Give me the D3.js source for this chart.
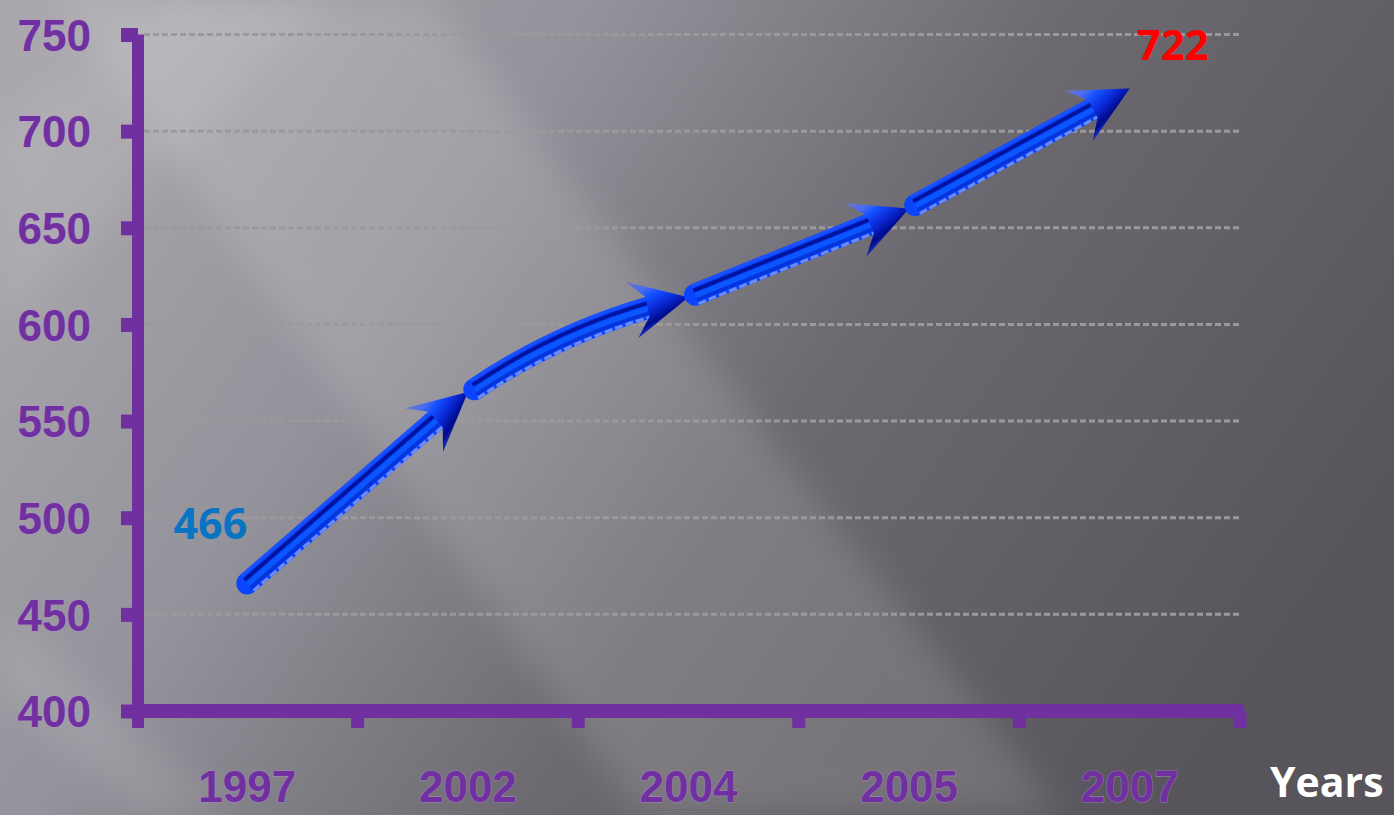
<!DOCTYPE html>
<html>
<head>
<meta charset="utf-8">
<script src="https://cdn.jsdelivr.net/npm/d3@7"></script>
<style>
  html, body { margin: 0; padding: 0; background: #6e6c72; }
  svg { display: block; }
</style>
</head>
<body>
<script>
// chart data
const years = ['1997', '2002', '2004', '2005', '2007'];
const values = [466, 565, 614, 660, 722];
const yTicks = [400, 450, 500, 550, 600, 650, 700, 750];
const firstLabel = '466';
const lastLabel = '722';
const xTitle = 'Years';

const W = 1394, H = 815;
const purple = '#7030a0';
// apex bow of each arrow segment (px, negative = bulges up)
const bows = [0, -11, 0, 0];

const svg = d3.select('body').append('svg')
  .attr('width', W)
  .attr('height', H);

const defs = svg.append('defs');

// background
const bg = defs.append('linearGradient')
  .attr('id', 'bg')
  .attr('x1', 0).attr('y1', 0.2)
  .attr('x2', 1).attr('y2', 0.6);
[[0, '#aaa8ad'], [0.3, '#94929a'], [0.6, '#6c6a70'], [1, '#57555b']].forEach(function(s) {
  bg.append('stop').attr('offset', s[0]).attr('stop-color', s[1]);
});

defs.append('filter').attr('id', 'soft')
  .attr('x', '-20%').attr('y', '-20%').attr('width', '140%').attr('height', '140%')
  .append('feGaussianBlur').attr('stdDeviation', 18);

svg.append('rect').attr('width', W).attr('height', H).attr('fill', 'url(#bg)');

// light streaks
svg.append('polygon')
  .attr('points', '60,0 430,0 1060,815 640,815')
  .attr('fill', '#ffffff')
  .attr('opacity', 0.13)
  .attr('filter', 'url(#soft)');
svg.append('polygon')
  .attr('points', '0,130 180,0 330,0 0,330')
  .attr('fill', '#ffffff')
  .attr('opacity', 0.08)
  .attr('filter', 'url(#soft)');
svg.append('polygon')
  .attr('points', '0,610 0,690 140,815 230,815')
  .attr('fill', '#ffffff')
  .attr('opacity', 0.1)
  .attr('filter', 'url(#soft)');

// scales
const x = d3.scaleBand().domain(years).range([137, 1240]);
const y = d3.scaleLinear().domain([400, 750]).range([711, 34.5]);
const cx = function(d) { return x(d) + x.bandwidth() / 2; };

// gridlines
svg.append('g')
  .selectAll('line')
  .data(yTicks.filter(function(d) { return d > 400; }))
  .join('line')
  .attr('x1', 144)
  .attr('x2', 1240)
  .attr('y1', function(d) { return y(d); })
  .attr('y2', function(d) { return y(d); })
  .attr('stroke', '#9a9a9c')
  .attr('stroke-width', 3)
  .attr('stroke-dasharray', '6,3');

// y axis
const yAxis = svg.append('g')
  .attr('transform', 'translate(138,0)')
  .call(d3.axisLeft(y).tickValues(yTicks).tickSize(17).tickPadding(30));
yAxis.select('.domain').remove();
yAxis.selectAll('.tick line')
  .attr('stroke', purple)
  .attr('stroke-width', 14);
yAxis.selectAll('.tick text')
  .attr('fill', purple)
  .attr('font-family', 'Liberation Sans, Arial, sans-serif')
  .attr('font-weight', 'bold')
  .attr('font-size', 44)
  .attr('dy', '0.36em')
  .attr('x', -47)
  .style('paint-order', 'stroke')
  .attr('stroke', '#b48fd6')
  .attr('stroke-width', 1.2)
  .attr('stroke-opacity', 0.6);

svg.append('line')
  .attr('x1', 138).attr('x2', 138)
  .attr('y1', y(750)).attr('y2', 728)
  .attr('stroke', purple)
  .attr('stroke-width', 12);

// x axis
const xAxis = svg.append('g')
  .attr('transform', 'translate(0,711)')
  .call(d3.axisBottom(x).tickSize(0).tickPadding(60));
xAxis.select('.domain').remove();
xAxis.selectAll('.tick text')
  .attr('fill', purple)
  .attr('font-family', 'Liberation Sans, Arial, sans-serif')
  .attr('font-weight', 'bold')
  .attr('font-size', 44)
  .style('paint-order', 'stroke')
  .attr('stroke', '#b48fd6')
  .attr('stroke-width', 1.2)
  .attr('stroke-opacity', 0.6);

svg.append('line')
  .attr('x1', 132).attr('x2', 1244)
  .attr('y1', 711).attr('y2', 711)
  .attr('stroke', purple)
  .attr('stroke-width', 14);

svg.append('g')
  .selectAll('line')
  .data(years.slice(1).concat(['end']))
  .join('line')
  .attr('x1', function(d) { return d === 'end' ? 1240 : x(d); })
  .attr('x2', function(d) { return d === 'end' ? 1240 : x(d); })
  .attr('y1', 711)
  .attr('y2', 728)
  .attr('stroke', purple)
  .attr('stroke-width', 13);

svg.append('text')
  .attr('x', 1270)
  .attr('y', 797)
  .attr('fill', '#ffffff')
  .attr('font-family', 'Open Sans, sans-serif')
  .attr('font-weight', 'bold')
  .attr('font-size', 41)
  .text(xTitle);

// arrows
const headGrad = defs.append('linearGradient')
  .attr('id', 'head')
  .attr('x1', 0).attr('y1', 0).attr('x2', 0.3).attr('y2', 1);
[[0, '#6f74cc'], [0.25, '#4a6cf0'], [0.4, '#1450ff'], [0.6, '#0a2ad8'], [0.8, '#000a8c'], [1, '#3556e6']].forEach(function(s) {
  headGrad.append('stop').attr('offset', s[0]).attr('stop-color', s[1]);
});

const stripes = [
  { off: -9.5, w: 3, color: '#1a50ff' },
  { off: -4.5, w: 4, color: '#000c8e', op: 0.85 },
  { off: 1, w: 5, color: '#0a56ff' },
  { off: 5.5, w: 3.5, color: '#0634d8' },
  { off: 9.5, w: 3, color: '#6c8cff', dash: '8,3' },
];

const pts = years.map(function(d, i) { return [cx(d), y(values[i])]; });
const arrows = svg.append('g');

for (let i = 0; i < pts.length - 1; i++) {
  let tip = pts[i + 1];
  let dx = tip[0] - pts[i][0];
  let dy = tip[1] - pts[i][1];
  let len = Math.sqrt(dx * dx + dy * dy);
  let u = [dx / len, dy / len];
  let n = [-u[1], u[0]];
  let gap = i === 0 ? 0 : 7;
  let s = [pts[i][0] + u[0] * gap, pts[i][1] + u[1] * gap];
  let mid = [(s[0] + tip[0]) / 2, (s[1] + tip[1]) / 2];
  let c = [mid[0] + n[0] * bows[i] * 2, mid[1] + n[1] * bows[i] * 2];

  // split the curve so the shaft ends where the head begins
  let t0 = 1 - 40 / len;
  let c2 = [s[0] + (c[0] - s[0]) * t0, s[1] + (c[1] - s[1]) * t0];
  let bq = function(t) {
    let a = (1 - t) * (1 - t), b = 2 * (1 - t) * t, e = t * t;
    return [a * s[0] + b * c[0] + e * tip[0], a * s[1] + b * c[1] + e * tip[1]];
  };
  let e2 = bq(t0);

  let shaft = function(off) {
    let p = d3.path();
    p.moveTo(s[0] + n[0] * off, s[1] + n[1] * off);
    p.quadraticCurveTo(c2[0] + n[0] * off, c2[1] + n[1] * off, e2[0] + n[0] * off, e2[1] + n[1] * off);
    return p.toString();
  };

  arrows.append('path')
    .attr('d', shaft(0))
    .attr('fill', 'none')
    .attr('stroke', '#0a44ff')
    .attr('stroke-width', 22)
    .attr('stroke-linecap', 'round');

  stripes.forEach(function(st) {
    arrows.append('path')
      .attr('d', shaft(st.off))
      .attr('fill', 'none')
      .attr('stroke', st.color)
      .attr('stroke-width', st.w)
      .attr('stroke-opacity', st.op || 1)
      .attr('stroke-dasharray', st.dash || null);
  });

  // head, oriented along the tangent at the tip
  let tx = tip[0] - c[0], ty = tip[1] - c[1];
  let ang = Math.atan2(ty, tx) * 180 / Math.PI;
  arrows.append('polygon')
    .attr('points', '0,0 -58,-29 -42,-10 -42,10 -58,29')
    .attr('transform', 'translate(' + tip[0] + ',' + tip[1] + ') rotate(' + ang + ')')
    .attr('fill', 'url(#head)');
}

// value labels
svg.append('text')
  .attr('x', pts[0][0])
  .attr('y', pts[0][1] - 44)
  .attr('text-anchor', 'end')
  .attr('fill', '#0a74c4')
  .attr('font-family', 'Open Sans, sans-serif')
  .attr('font-weight', 'bold')
  .attr('font-size', 43)
  .text(firstLabel);

svg.append('text')
  .attr('x', pts[pts.length - 1][0] + 7)
  .attr('y', pts[pts.length - 1][1] - 29)
  .attr('fill', '#ff0000')
  .attr('font-family', 'Open Sans, sans-serif')
  .attr('font-weight', 'bold')
  .attr('font-size', 42)
  .text(lastLabel);
</script>
</body>
</html>
